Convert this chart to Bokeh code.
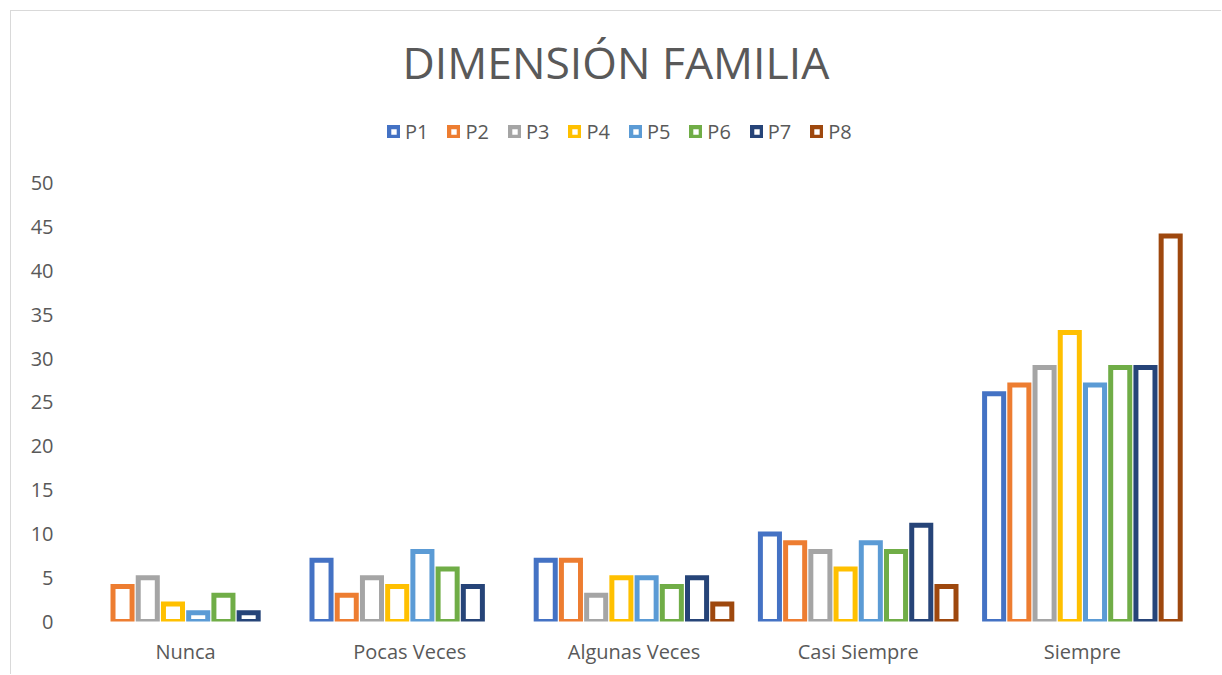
from bokeh.plotting import figure
from bokeh.models import FactorRange, Range1d, FixedTicker, ColumnDataSource, Legend, LegendItem
from bokeh.transform import dodge
from bokeh.core.properties import value
from bokeh.embed import file_html
from bokeh.resources import INLINE

categories = ["Nunca", "Pocas Veces", "Algunas Veces", "Casi Siempre", "Siempre"]
series_names = ["P1", "P2", "P3", "P4", "P5", "P6", "P7", "P8"]
P1 = [0, 7, 7, 10, 26]
P2 = [4, 3, 7, 9, 27]
P3 = [5, 5, 3, 8, 29]
P4 = [2, 4, 5, 6, 33]
P5 = [1, 8, 5, 9, 27]
P6 = [3, 6, 4, 8, 29]
P7 = [1, 4, 5, 11, 29]
P8 = [0, 0, 2, 4, 44]
series_values = [P1, P2, P3, P4, P5, P6, P7, P8]
colors = ["#4472C4", "#ED7D31", "#A5A5A5", "#FFC000", "#5B9BD5", "#70AD47", "#264478", "#9E480E"]
y_ticks = list(range(0, 55, 5))

FONT = "Open Sans"
GREY = "#595959"

p = figure(x_range=FactorRange(*categories, range_padding=0),
           y_range=Range1d(0, 59.47),
           width=1211, height=664,
           output_backend="svg", toolbar_location=None,
           min_border_left=62, min_border_right=28,
           min_border_top=89, min_border_bottom=54)
p.styles = {"margin-left": "10px", "margin-top": "10px",
            "border-left": "1px solid #d9d9d9", "border-top": "1px solid #d9d9d9"}
p.outline_line_color = None
p.xgrid.grid_line_color = None
p.ygrid.grid_line_color = None

p.title.text = "DIMENSIÓN FAMILIA"
p.title.text_font = FONT
p.title.text_font_size = "44.5px"
p.title.text_font_style = "normal"
p.title.text_color = GREY
p.title.align = "left"
p.title.offset = 329
p.title.standoff = 18

step = 0.1125
bw = 0.085
items = []
for i, (name, vals, col) in enumerate(zip(series_names, series_values, colors)):
    xs = [c for c, v in zip(categories, vals) if v > 0]
    ys = [v for v in vals if v > 0]
    src = ColumnDataSource(data=dict(x=xs, top=ys))
    r = p.vbar(x=dodge("x", (i - 3.5) * step, range=p.x_range), top="top", bottom=0,
               width=bw, source=src, fill_color="white", line_color=col, line_width=5,
               line_join="miter")
    items.append(LegendItem(label=name, renderers=[r]))

legend = Legend(items=items, orientation="horizontal", location=(314, 476),
                glyph_width=13, glyph_height=13, label_standoff=5, spacing=19,
                padding=0, margin=0, border_line_color=None, background_fill_alpha=0,
                label_text_font=FONT, label_text_font_size="20px", label_text_color=GREY)
p.add_layout(legend, "center")

p.yaxis.ticker = FixedTicker(ticks=y_ticks)
for ax in (p.xaxis[0], p.yaxis[0]):
    ax.axis_line_color = None
    ax.major_tick_line_color = None
    ax.minor_tick_line_color = None
    ax.major_tick_out = 0
    ax.major_tick_in = 0
    ax.major_label_text_font = FONT
    ax.major_label_text_font_size = "20px"
    ax.major_label_text_color = GREY
p.yaxis.major_label_standoff = 20
p.xaxis.major_label_standoff = 16

open("out.html", "w").write(file_html(p, INLINE))
